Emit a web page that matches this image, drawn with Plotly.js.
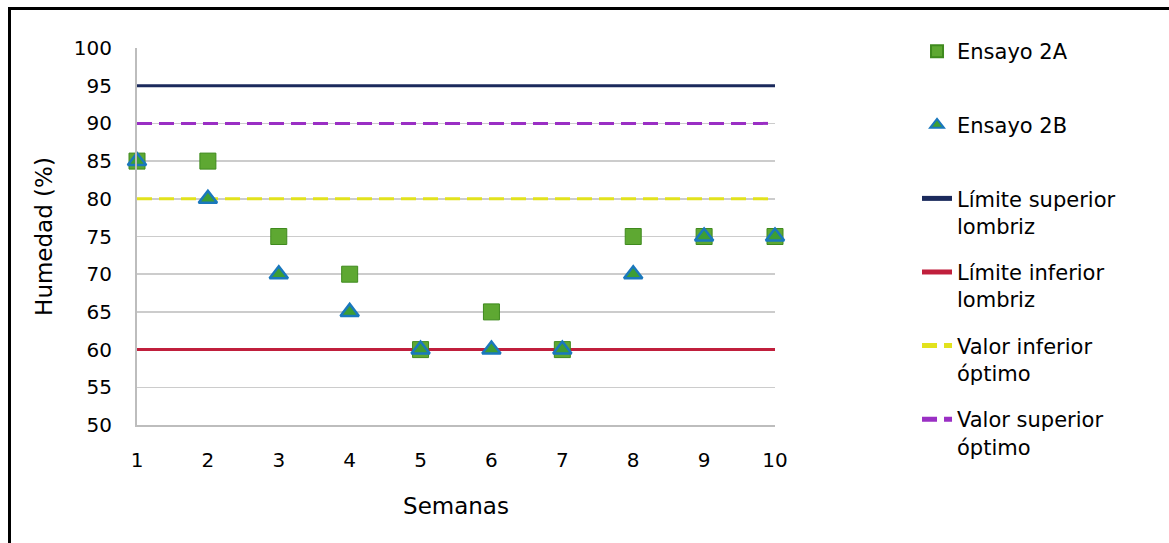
<!DOCTYPE html>
<html>
<head>
<meta charset="utf-8">
<script src="https://cdn.plot.ly/plotly-3.0.1.min.js"></script>
<style>
  html, body { margin: 0; padding: 0; background: #ffffff; }
  #wrap { position: relative; width: 1169px; height: 543px; overflow: hidden; }
  #chart { position: absolute; left: 0; top: 0; width: 1169px; height: 543px; }
  #frame { position: absolute; left: 8px; top: 7px; width: 1200px; height: 600px;
           border-left: 3px solid #000; border-top: 3px solid #000; pointer-events: none; }
</style>
</head>
<body>
<div id="wrap">
  <div id="chart"></div>
  <div id="frame"></div>
</div>
<script>
const semanas = [1, 2, 3, 4, 5, 6, 7, 8, 9, 10];
const ensayo2A = [85, 85, 75, 70, 60, 65, 60, 75, 75, 75];
const ensayo2B = [85, 80, 70, 65, 60, 60, 60, 70, 75, 75];
const limiteSuperior = 95;
const limiteInferior = 60;
const valorInferiorOptimo = 80;
const valorSuperiorOptimo = 90;
const yTicks = [50, 55, 60, 65, 70, 75, 80, 85, 90, 95, 100];

const FONT = '"DejaVu Sans", Verdana, sans-serif';
const xLine = [semanas[0], semanas[semanas.length - 1]];
const NB = '\u00a0';

const traces = [
  {
    name: 'Límite superior<br>lombriz', x: xLine, y: [limiteSuperior, limiteSuperior],
    mode: 'lines', line: {color: '#1b2a5c', width: 3}, legendrank: 3, legendgroup: 'c'
  },
  {
    name: 'Límite inferior<br>lombriz', x: xLine, y: [limiteInferior, limiteInferior],
    mode: 'lines', line: {color: '#c01f3c', width: 3}, legendrank: 4, legendgroup: 'd'
  },
  {
    name: 'Valor inferior<br>óptimo', x: xLine, y: [valorInferiorOptimo, valorInferiorOptimo],
    mode: 'lines', line: {color: '#e2e21c', width: 3, dash: '15px,7px'}, legendrank: 5, legendgroup: 'e'
  },
  {
    name: 'Valor superior<br>óptimo', x: xLine, y: [valorSuperiorOptimo, valorSuperiorOptimo],
    mode: 'lines', line: {color: '#9a2fc4', width: 3, dash: '15px,7px'}, legendrank: 6, legendgroup: 'f'
  },
  {
    name: 'Ensayo 2A<br>' + NB, x: semanas, y: ensayo2A, mode: 'markers', cliponaxis: false,
    marker: {symbol: 'square', size: 16, color: '#5ea832', line: {color: '#3f8a1e', width: 1}},
    legendrank: 1, legendgroup: 'a'
  },
  {
    name: 'Ensayo 2B<br>' + NB, x: semanas, y: ensayo2B, mode: 'markers', cliponaxis: false,
    marker: {symbol: 'triangle-up', size: 16, color: '#3d9e34', line: {color: '#1a78bd', width: 2.5}},
    legendrank: 2, legendgroup: 'b'
  }
];

const layout = {
  width: 1169, height: 543,
  margin: {l: 137, r: 394, t: 48, b: 118},
  paper_bgcolor: '#ffffff', plot_bgcolor: '#ffffff',
  font: {family: FONT, size: 20, color: '#000000'},
  showlegend: true,
  legend: {
    x: 1.2226, xanchor: 'left', y: 1.045, yanchor: 'top', valign: 'top',
    font: {family: FONT, size: 21, color: '#000000'},
    tracegroupgap: 16, traceorder: 'grouped', itemsizing: 'constant', maxheight: 530,
    bgcolor: 'rgba(0,0,0,0)'
  },
  xaxis: {
    range: [1, 10], tickmode: 'array', tickvals: semanas, ticktext: semanas.map(String),
    showgrid: false, zeroline: false, showline: true, linecolor: '#bdbdbd', linewidth: 2,
    ticks: '', ticklabelstandoff: 16,
    title: {text: 'Semanas', font: {family: FONT, size: 23, color: '#000000'}, standoff: 27}
  },
  yaxis: {
    range: [50, 100], tickmode: 'array', tickvals: yTicks,
    showgrid: true, gridcolor: '#cccccc', gridwidth: 1.5, zeroline: false,
    showline: true, linecolor: '#bdbdbd', linewidth: 2,
    ticks: '', ticklabelstandoff: 19,
    title: {text: 'Humedad (%)', font: {family: FONT, size: 23, color: '#000000'}, standoff: 15}
  }
};

Plotly.newPlot('chart', traces, layout, {displayModeBar: false, staticPlot: true});
</script>
</body>
</html>
